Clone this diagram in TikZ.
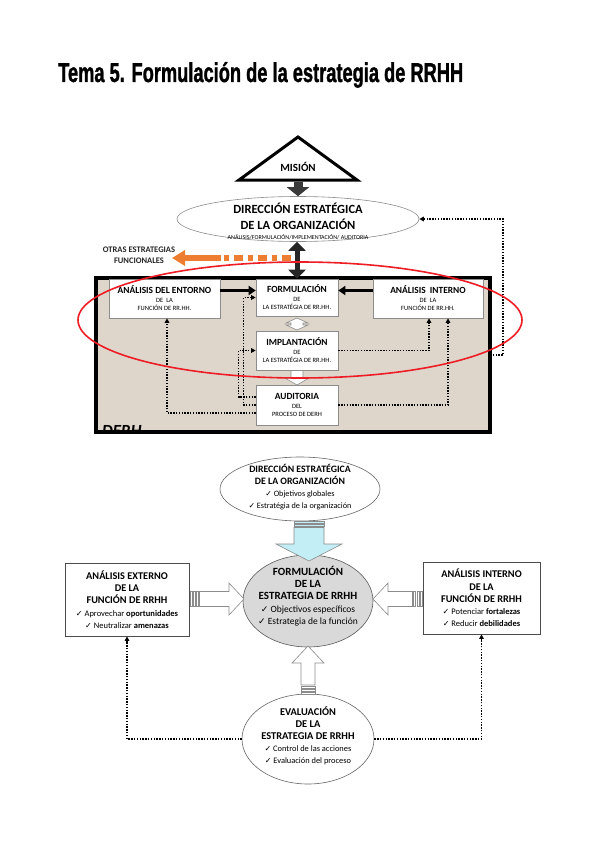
\documentclass[tikz,border=0pt]{standalone}
\usepackage{fontspec}
\usepackage{graphicx}
\setmainfont{Carlito}
\newfontfamily\djv{DejaVu Sans}
\newfontfamily\titlefont[FakeBold=1.5]{Liberation Sans}
\usetikzlibrary{arrows.meta,calc,shapes.geometric}
\newcommand{\ck}{{\djv\scalebox{0.95}{\char"2713}}\ }
\definecolor{beige}{HTML}{DED6CA}
\definecolor{boxgray}{HTML}{8C8C8C}
\definecolor{orng}{HTML}{ED7D31}
\definecolor{redl}{HTML}{EE1C25}
\definecolor{cyanf}{HTML}{C3EEF6}
\definecolor{formf}{HTML}{D9D9D9}
\definecolor{darkar}{HTML}{3A3A3A}
\begin{document}
\begin{tikzpicture}[x=1pt,y=-1pt,
  tbox/.style={draw=boxgray, fill=white, line width=0.6pt, inner sep=0pt, align=center, font=\fontsize{6.5}{8.5}\selectfont},
  bbox/.style={draw=black!70, fill=white, line width=0.7pt, inner sep=0pt, align=center},
  ell/.style={ellipse, draw=boxgray, fill=white, line width=0.6pt, inner sep=0pt},
  solidarr/.style={line width=2.6pt, -{Triangle[length=7pt,width=9pt]}},
  dotarr/.style={line width=1.3pt, dash pattern=on 1.4pt off 1.4pt, -{Triangle[length=4.5pt,width=4.5pt]}},
  blk/.style={draw=boxgray, fill=white, line width=0.6pt, line join=miter},
]
\useasboundingbox (0,0) rectangle (599,848);
\fill[white] (0,0) rectangle (599,848);

% ---------- title
\node[anchor=base west, inner sep=0] (title) at (58,82)
  {\resizebox{405pt}{20pt}{\titlefont\bfseries Tema 5. Formulación de la estrategia de RRHH}};

% ---------- top diagram
\draw[line width=3pt, line join=miter, fill=white] (298,137) -- (357,180) -- (239,180) -- cycle;
\node[font=\fontsize{11}{13}\selectfont\bfseries, inner sep=0] (mis) at (298,167) {MISIÓN};
\coordinate (misb) at (298,181.5);

\node[ell, minimum width=242pt, minimum height=45pt] (dir) at (298,219) {};
\draw[darkar, line width=9pt, -{Triangle[length=9pt,width=22pt]}] (misb) -- (dir.north);
\node[font=\fontsize{12.5}{16}\selectfont\bfseries, align=center, inner sep=0] (dirT) at (298,216) {DIRECCIÓN ESTRATÉGICA\\DE LA ORGANIZACIÓN};
\node[font=\fontsize{6}{7}\selectfont, inner sep=0] (dirS) at (298,237.5) {ANÁLISIS/FORMULACIÓN/IMPLEMENTACIÓN/ AUDITORIA};

% DERH frame
\node[draw, line width=4pt, fill=beige, minimum width=394pt, minimum height=154pt, inner sep=0, outer sep=0] (derh) at (293,355) {};
\begin{scope}
  \clip (derh.south west) rectangle (derh.north east);
  \node[anchor=base west, inner sep=0, font=\fontsize{17}{20}\selectfont\bfseries\itshape] (derhT) at (102,436) {DERH};
\end{scope}
\draw[line width=4pt] (derh.south west) rectangle (derh.north east);

% boxes
\node[tbox, minimum width=111pt, minimum height=39pt] (ent) at (164.5,298.5)
  {{\fontsize{9.4}{11}\selectfont\bfseries ANÁLISIS DEL ENTORNO}\\DE\ \ LA\\FUNCIÓN DE RR.HH.};
\node[tbox, minimum width=82pt, minimum height=37pt] (form) at (297,297.5)
  {{\fontsize{9.4}{11}\selectfont\bfseries FORMULACIÓN}\\DE\\LA ESTRATÉGIA DE RR.HH.};
\node[tbox, minimum width=110pt, minimum height=39pt] (intn) at (428,298.5)
  {{\fontsize{9.4}{11}\selectfont\bfseries ANÁLISIS\ \ INTERNO}\\DE\ \ LA\\FUNCIÓN DE RR.HH.};
\node[tbox, minimum width=82pt, minimum height=39pt] (impl) at (297,350.5)
  {{\fontsize{9.4}{11}\selectfont\bfseries IMPLANTACIÓN}\\DE\\LA ESTRATÉGIA DE RR.HH.};
\node[tbox, minimum width=82pt, minimum height=40pt] (aud) at (297,405)
  {{\fontsize{9.4}{11}\selectfont\bfseries AUDITORIA}\\DEL\\PROCESO DE DERH};

% solid arrows
\draw[solidarr] ([yshift=8pt]ent.east) -- ([yshift=8pt]ent.east -| form.west);
\draw[solidarr] ([yshift=8pt]intn.west) -- ([yshift=8pt]intn.west -| form.east);

% black double arrow
\draw[black!85, line width=5pt, {Triangle[length=9pt,width=17pt]}-{Triangle[length=9pt,width=17pt]}] (dir.south -| form.north) -- (form.north);

% white block arrows (top)
\draw[blk] (297,318) -- (308,323) -- (303,323) -- (303,325) -- (308,325) -- (297,330) -- (286,325) -- (291,325) -- (291,323) -- (286,323) -- cycle;
\draw[blk] (291,370.5) -- (303,370.5) -- (303,378) -- (309,378) -- (297,385) -- (285,378) -- (291,378) -- cycle;

% dotted connectors
\draw[dotarr] ([yshift=-8pt]aud.west) -| ([xshift=2.5pt]ent.south);
\draw[dotarr] (aud.west) -| ([xshift=-12pt]form.west) -- (form.west);
\draw[dotarr] ([yshift=8pt]aud.west) -| ([xshift=-17pt]impl.west) -- (impl.west);
\draw[dotarr] (aud.east) -| ([xshift=20pt]intn.south);
\draw[dotarr] (impl.east) -| ([xshift=1pt]intn.south);
\draw[dotarr] (derh.east) -- ++(13,0) |- (dir.east);

% orange arrow
\node[font=\fontsize{8.5}{11}\selectfont\bfseries, align=center, inner sep=0, text=black!85] (otras) at (139,255) {OTRAS ESTRATEGIAS\\FUNCIONALES};
\coordinate (oa) at (291,258);
\coordinate (ob) at (221,258);
\coordinate (ot) at (172,258);
\draw[orng, line width=6pt, dash pattern=on 9pt off 5pt on 5pt off 5pt] (oa) -- (ob);
\draw[orng, line width=6pt, -{Triangle[length=13pt,width=15pt]}] (ob) -- (ot);

% red ellipse
\node[ellipse, draw=redl, line width=1.6pt, minimum width=444pt, minimum height=116pt, inner sep=0] (ring) at (300,320) {};

% ---------- bottom diagram
\node[ell, draw=black!60, minimum width=160pt, minimum height=64pt] (dir2) at (300,489) {};
\node[align=center, inner sep=0, font=\fontsize{8.2}{12}\selectfont] (dir2T) at (300,487)
  {{\fontsize{9.8}{12}\selectfont\bfseries DIRECCIÓN ESTRATÉGICA}\\{\fontsize{9.8}{12}\selectfont\bfseries DE LA ORGANIZACIÓN}\\\ck Objetivos globales\\\ck Estratégia de la organización};

\node[ell, draw=black!65, fill=formf, minimum width=130pt, minimum height=92pt] (form2) at (308,601) {};
\node[align=center, inner sep=0, font=\fontsize{9.5}{12.4}\selectfont] (form2T) at (308,596)
  {{\fontsize{11}{12.4}\selectfont\bfseries FORMULACIÓN}\\{\fontsize{11}{12.4}\selectfont\bfseries DE LA}\\{\fontsize{11}{12.4}\selectfont\bfseries ESTRATEGIA DE RRHH}\\\ck Objectivos específicos\\\ck Estrategia de la función};

\node[bbox, minimum width=124pt, minimum height=73pt, font=\fontsize{8.5}{12.3}\selectfont] (ext) at (127,599.5)
  {{\fontsize{10.3}{12.3}\selectfont\bfseries ANÁLISIS EXTERNO}\\{\fontsize{10.3}{12.3}\selectfont\bfseries DE LA}\\{\fontsize{10.3}{12.3}\selectfont\bfseries FUNCIÓN DE RRHH}\\\ck Aprovechar \textbf{oportunidades}\\\ck Neutralizar \textbf{amenazas}};
\node[bbox, minimum width=117pt, minimum height=72pt, font=\fontsize{8.5}{12.3}\selectfont] (int2) at (481.5,598)
  {{\fontsize{10.3}{12.3}\selectfont\bfseries ANÁLISIS INTERNO}\\{\fontsize{10.3}{12.3}\selectfont\bfseries DE LA}\\{\fontsize{10.3}{12.3}\selectfont\bfseries FUNCIÓN DE RRHH}\\\ck Potenciar \textbf{fortalezas}\\\ck Reducir \textbf{debilidades}};

\node[ell, draw=black!60, minimum width=132pt, minimum height=90pt] (eva) at (308,739) {};
\node[align=center, inner sep=0, font=\fontsize{8.4}{12}\selectfont] (evaT) at (308,736)
  {{\fontsize{10.4}{12}\selectfont\bfseries EVALUACIÓN}\\{\fontsize{10.4}{12}\selectfont\bfseries DE LA}\\{\fontsize{10.4}{12}\selectfont\bfseries ESTRATEGIA DE RRHH}\\\ck Control de las acciones\\\ck Evaluación del proceso};

% cyan down arrow
\draw[blk, fill=cyanf] (294,521) rectangle (324,523);
\draw[blk, fill=cyanf] (294,524.5) rectangle (324,526);
\draw[blk, fill=cyanf] (294,527.5) -- (324,527.5) -- (324,544) -- (342,544) -- (309,561) -- (276,544) -- (294,544) -- cycle;

% right arrow from externo
\foreach \sx in {190,193.2,196.4} \draw[blk] (\sx,591.5) rectangle ++(2,15);
\draw[blk] (199.5,591.5) -- (229,591.5) -- (229,583) -- (244,599) -- (229,615) -- (229,606.5) -- (199.5,606.5) -- cycle;
% left arrow from interno
\foreach \sx in {420,416.8,413.6} \draw[blk] (\sx,591.5) rectangle ++(2,15);
\draw[blk] (412.5,591.5) -- (388,591.5) -- (388,583) -- (373,599) -- (388,615) -- (388,606.5) -- (412.5,606.5) -- cycle;
% up arrow from evaluacion
\foreach \sy in {686,689.2,692.4} \draw[blk] (301,\sy) rectangle ++(14,2);
\draw[blk] (301,685) -- (301,663) -- (292,663) -- (308,646) -- (324,663) -- (315,663) -- (315,685) -- cycle;

% dotted connectors bottom
\draw[dotarr] (eva.west) -| (ext.south);
\draw[dotarr] (eva.east) -| (int2.south);
\end{tikzpicture}
\end{document}
